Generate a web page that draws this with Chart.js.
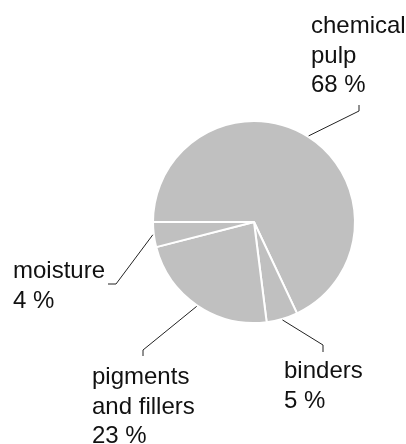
<!DOCTYPE html>
<html>
<head>
<meta charset="utf-8">
<script src="https://cdn.jsdelivr.net/npm/chart.js@4/dist/chart.umd.min.js"></script>
<style>
  html, body { margin: 0; padding: 0; background: #fff; }
  #wrap { width: 406px; height: 444px; position: relative; }
</style>
</head>
<body>
<div id="wrap"><canvas id="pie"></canvas></div>
<script>
// composition of paper, percent
var labels = ["chemical\npulp", "binders", "pigments\nand fillers", "moisture"];
var values = [68, 5, 23, 4];

// where each label text sits and where its leader line bends
var labelPos = [
    { x: 311, y: 33, elbow: [359, 111], end: [359, 105] },
    { x: 284, y: 378, elbow: [323, 345], end: [323, 352] },
    { x: 92, y: 384, elbow: [143, 350], end: [143, 356] },
    { x: 13, y: 278, elbow: [116, 284], end: [108, 284] }
];

var calloutPlugin = {
    id: "callouts",
    afterDraw: function (chart) {
        var ctx = chart.ctx;
        var arcs = chart.getDatasetMeta(0).data;
        ctx.save();
        ctx.strokeStyle = "#222";
        ctx.lineWidth = 1;
        ctx.fillStyle = "#111";
        ctx.font = "24px 'Liberation Sans', Arial, sans-serif";
        ctx.textBaseline = "alphabetic";
        for (var i = 0; i < arcs.length; i++) {
            var a = arcs[i];
            var mid = (a.startAngle + a.endAngle) / 2;
            var sx = a.x + Math.cos(mid) * (a.outerRadius + 1);
            var sy = a.y + Math.sin(mid) * (a.outerRadius + 1);
            var p = labelPos[i];
            ctx.beginPath();
            ctx.moveTo(sx, sy);
            ctx.lineTo(p.elbow[0], p.elbow[1]);
            ctx.lineTo(p.end[0], p.end[1]);
            ctx.stroke();
            var lines = labels[i].split("\n").concat([values[i] + " %"]);
            for (var j = 0; j < lines.length; j++) {
                ctx.fillText(lines[j], p.x, p.y + j * 29.5);
            }
        }
        ctx.restore();
    }
};

var ctx = document.getElementById("pie").getContext("2d");
var chart = new Chart(ctx, {
    type: "pie",
    data: {
        labels: labels,
        datasets: [{
            data: values,
            backgroundColor: "#c0c0c0",
            borderColor: "#ffffff",
            borderWidth: 2,
            hoverOffset: 0
        }]
    },
    options: {
        responsive: true,
        maintainAspectRatio: false,
        animation: false,
        rotation: -90,
        layout: { padding: { left: 152, right: 50, top: 120, bottom: 120 } },
        plugins: {
            legend: { display: false },
            tooltip: { enabled: false }
        }
    },
    plugins: [calloutPlugin]
});
</script>
</body>
</html>
